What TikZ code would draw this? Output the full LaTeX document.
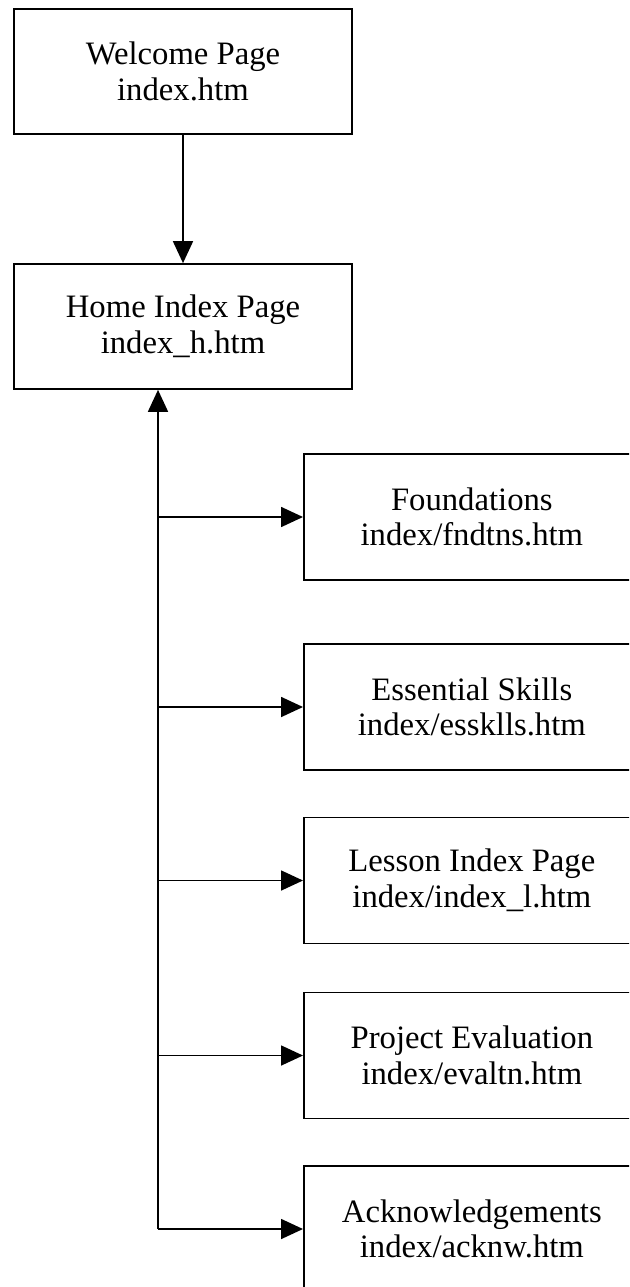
\documentclass[tikz,border=0pt]{standalone}
\usepackage{fontspec}
\setmainfont{Liberation Serif}
\usetikzlibrary{arrows.meta}
\begin{document}
\begin{tikzpicture}[x=1pt,y=-1pt,
  page/.style={draw=black, line width=1.7pt, fill=white, inner sep=0pt,
    align=center, font=\fontsize{32.7}{35.5}\selectfont},
  topbox/.style={page, minimum width=338pt, minimum height=125pt},
  subbox/.style={page, minimum width=336pt, minimum height=126pt},
  link/.style={line width=1.7pt, -{Triangle[length=22pt,width=20pt]}}]
\useasboundingbox (0,0) rectangle (629,1287);
\clip (0,0) rectangle (629,1287);

% top-level pages
\node[topbox] (welcome) at (183,71.5) {Welcome Page\\index.htm};
\node[topbox] (home) at (183,326.5) {Home Index Page\\index\_h.htm};

% pages under index/
\node[subbox, anchor=west] (fnd) at (303,517) {Foundations\\index/fndtns.htm};
\node[subbox, anchor=west] (ess) at (303,707) {Essential Skills\\index/essklls.htm};
\node[subbox, anchor=west] (les) at (303,880.5) {Lesson Index Page\\index/index\_l.htm};
\node[subbox, anchor=west] (prj) at (303,1055.5) {Project Evaluation\\index/evaltn.htm};
\node[subbox, anchor=west] (ack) at (303,1229) {Acknowledgements\\index/acknw.htm};

% connectors
\draw[link] (welcome.south) -- (home.north);
\coordinate (trunk) at (158,1229);
\draw[link] (trunk) -- (trunk |- home.south);
\draw[link] (trunk |- fnd.west) -- (fnd.west);
\draw[link] (trunk |- ess.west) -- (ess.west);
\draw[link] (trunk |- les.west) -- (les.west);
\draw[link] (trunk |- prj.west) -- (prj.west);
\draw[link] (trunk) -- (ack.west);
\end{tikzpicture}
\end{document}
